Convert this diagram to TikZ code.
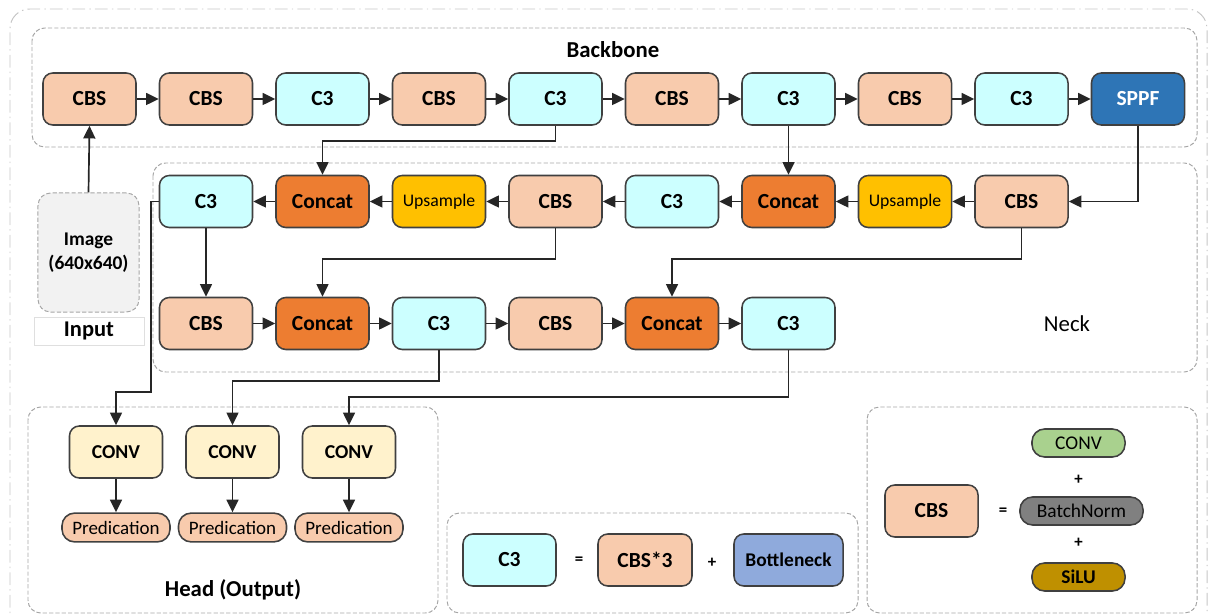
\documentclass[tikz,border=0pt]{standalone}
\usepackage{fontspec}
\setmainfont{Carlito}
\usetikzlibrary{arrows.meta,calc}
\definecolor{cbsc}{HTML}{F8CBAD}
\definecolor{c3c}{HTML}{CCFFFF}
\definecolor{concatc}{HTML}{ED7D31}
\definecolor{upsc}{HTML}{FFC000}
\definecolor{sppfc}{HTML}{2E75B6}
\definecolor{convc}{HTML}{FFF2CC}
\definecolor{bottlec}{HTML}{8FAADC}
\definecolor{greenc}{HTML}{A9D18E}
\definecolor{bnc}{HTML}{808080}
\definecolor{siluc}{HTML}{BF9000}
\definecolor{bordc}{HTML}{404040}
\definecolor{linec}{HTML}{262626}
\definecolor{grpc}{HTML}{A6A6A6}
\definecolor{imgc}{HTML}{F2F2F2}
\tikzset{
  blk/.style={draw=bordc, line width=1.1pt, rounded corners=7pt, minimum width=2.325cm,
    minimum height=1.3cm, inner sep=0pt, text=black,
    font=\fontsize{15.3}{18}\selectfont\bfseries},
  cbsbox/.style={blk, fill=cbsc},
  cthree/.style={blk, fill=c3c},
  concatbox/.style={blk, fill=concatc},
  upsbox/.style={blk, fill=upsc, font=\fontsize{12.6}{15}\selectfont},
  sppfbox/.style={blk, fill=sppfc, text=white},
  convbox/.style={blk, fill=convc, font=\fontsize{14}{17}\selectfont\bfseries},
  predbox/.style={blk, fill=cbsc, rounded corners=9pt, minimum width=2.7cm,
    minimum height=0.72cm, font=\fontsize{13.5}{16}\selectfont},
  smallbox/.style={blk, rounded corners=9pt, minimum height=0.7cm,
    font=\fontsize{13.8}{16}\selectfont},
  grp/.style={draw=grpc, line width=0.7pt, dash pattern=on 3pt off 1.5pt, rounded corners=9pt},
  arr/.style={draw=linec, line width=1.2pt, -{Triangle[length=9pt,width=8.5pt]}},
  ttl/.style={font=\fontsize{16.2}{19}\selectfont\bfseries, inner sep=1pt},
  sym/.style={font=\fontsize{12}{14}\selectfont\bfseries, inner sep=0pt}
}
\begin{document}
\begin{tikzpicture}[x=0.025cm,y=-0.025cm]
\useasboundingbox (0,0) rectangle (1210,615);
% outer frame
\draw[gray!45, line width=0.7pt, dash pattern=on 9pt off 3pt on 1pt off 3pt, rounded corners=14pt]
  (10,630) -- (10,9) -- (1207,9) -- (1207,630);
% groups
\draw[grp] (32,28) rectangle (1197,147);
\draw[grp] (153,163) rectangle (1197,372);
\draw[grp] (28,407) rectangle (438,613);
\draw[grp] (447,513) rectangle (858,613);
\draw[grp] (867,407) rectangle (1197,613);
\node[ttl] (tback) at (613,50) {Backbone};
\node[ttl, font=\fontsize{16.2}{19}\selectfont] (tneck) at (1067,324) {Neck};
\node[ttl] (thead) at (233,590) {Head (Output)};
% input
\node[draw=grpc, dash pattern=on 3pt off 1.5pt, line width=0.7pt, fill=imgc, rounded corners=9pt,
  minimum width=2.525cm, minimum height=2.975cm, align=center,
  font=\fontsize{13.8}{17}\selectfont\bfseries] (img) at (88.5,252.5) {Image\\(640x640)};
\node[draw=gray!25, line width=0.6pt, minimum width=2.75cm, minimum height=0.7cm,
  font=\fontsize{16}{19}\selectfont\bfseries] (inlab) at (89,331) {Input};
% backbone
\node[cbsbox] (b1) at (89.5,99) {CBS};
\node[cbsbox] (b2) at (206,99) {CBS};
\node[cthree] (b3) at (322.5,99) {C3};
\node[cbsbox] (b4) at (439,99) {CBS};
\node[cthree] (b5) at (555.5,99) {C3};
\node[cbsbox] (b6) at (672,99) {CBS};
\node[cthree] (b7) at (788.5,99) {C3};
\node[cbsbox] (b8) at (905,99) {CBS};
\node[cthree] (b9) at (1021.5,99) {C3};
\node[sppfbox] (b10) at (1138,99) {SPPF};
% neck row 1
\node[cthree] (n1) at (206,201.5) {C3};
\node[concatbox] (n2) at (322.5,201.5) {Concat};
\node[upsbox] (n3) at (439,201.5) {Upsample};
\node[cbsbox] (n4) at (555.5,201.5) {CBS};
\node[cthree] (n5) at (672,201.5) {C3};
\node[concatbox] (n6) at (788.5,201.5) {Concat};
\node[upsbox] (n7) at (905,201.5) {Upsample};
\node[cbsbox] (n8) at (1021.5,201.5) {CBS};
% neck row 2
\node[cbsbox] (m1) at (206,323.5) {CBS};
\node[concatbox] (m2) at (322.5,323.5) {Concat};
\node[cthree] (m3) at (439,323.5) {C3};
\node[cbsbox] (m4) at (555.5,323.5) {CBS};
\node[concatbox] (m5) at (672,323.5) {Concat};
\node[cthree] (m6) at (788.5,323.5) {C3};
% head
\node[convbox] (h1) at (116,452) {CONV};
\node[convbox] (h2) at (232.5,452) {CONV};
\node[convbox] (h3) at (349,452) {CONV};
\node[predbox] (p1) at (116,527.5) {Predication};
\node[predbox] (p2) at (232.5,527.5) {Predication};
\node[predbox] (p3) at (349,527.5) {Predication};
% legend C3
\node[cthree] (lc3) at (509.5,560) {C3};
\node[sym] (leq1) at (579,561) {=};
\node[cbsbox, minimum width=2.35cm] (lcbs3) at (645,560) {CBS*3};
\node[sym] (lplus1) at (712,563) {+};
\node[blk, fill=bottlec, minimum width=2.725cm, font=\fontsize{13.8}{16}\selectfont\bfseries] (lbot) at (788.5,560) {Bottleneck};
% legend CBS
\node[cbsbox] (lcbs) at (931.5,511) {CBS};
\node[sym] (leq2) at (1003,512) {=};
\node[smallbox, fill=greenc, minimum width=2.325cm] (lconv) at (1078.5,443) {CONV};
\node[sym] (lplus2) at (1078.5,480) {+};
\node[smallbox, fill=bnc, minimum width=3.075cm] (lbn) at (1081.5,511) {BatchNorm};
\node[sym] (lplus3) at (1078.5,543) {+};
\node[smallbox, fill=siluc, minimum width=2.325cm, font=\fontsize{13.8}{16}\selectfont\bfseries] (lsilu) at (1078.5,577) {SiLU};
% connectors
\draw[arr] (img.north) -- (b1.south);
\foreach \i/\j in {1/2,2/3,3/4,4/5,5/6,6/7,7/8,8/9,9/10}
  \draw[arr] (b\i.east) -- (b\j.west);
\draw[arr] (b5.south) -- ++(0,15) -| (n2.north);
\draw[arr] (b7.south) -- (n6.north);
\draw[arr] (b10.south) |- (n8.east);
\foreach \i/\j in {8/7,7/6,6/5,5/4,4/3,3/2,2/1}
  \draw[arr] (n\i.west) -- (n\j.east);
\draw[arr] (n1.south) -- (m1.north);
\draw[arr] (n4.south) -- ++(0,31) -| (m2.north);
\draw[arr] (n8.south) -- ++(0,31) -| (m5.north);
\foreach \i/\j in {1/2,2/3,3/4,4/5,5/6}
  \draw[arr] (m\i.east) -- (m\j.west);
\draw[arr] (n1.west) -- ++(-8,0) -- ++(0,190.5) -| (h1.north);
\draw[arr] (m3.south) -- ++(0,31) -| (h2.north);
\draw[arr] (m6.south) -- ++(0,47) -| (h3.north);
\foreach \i in {1,2,3}
  \draw[arr] (h\i.south) -- (p\i.north);
\end{tikzpicture}
\end{document}
